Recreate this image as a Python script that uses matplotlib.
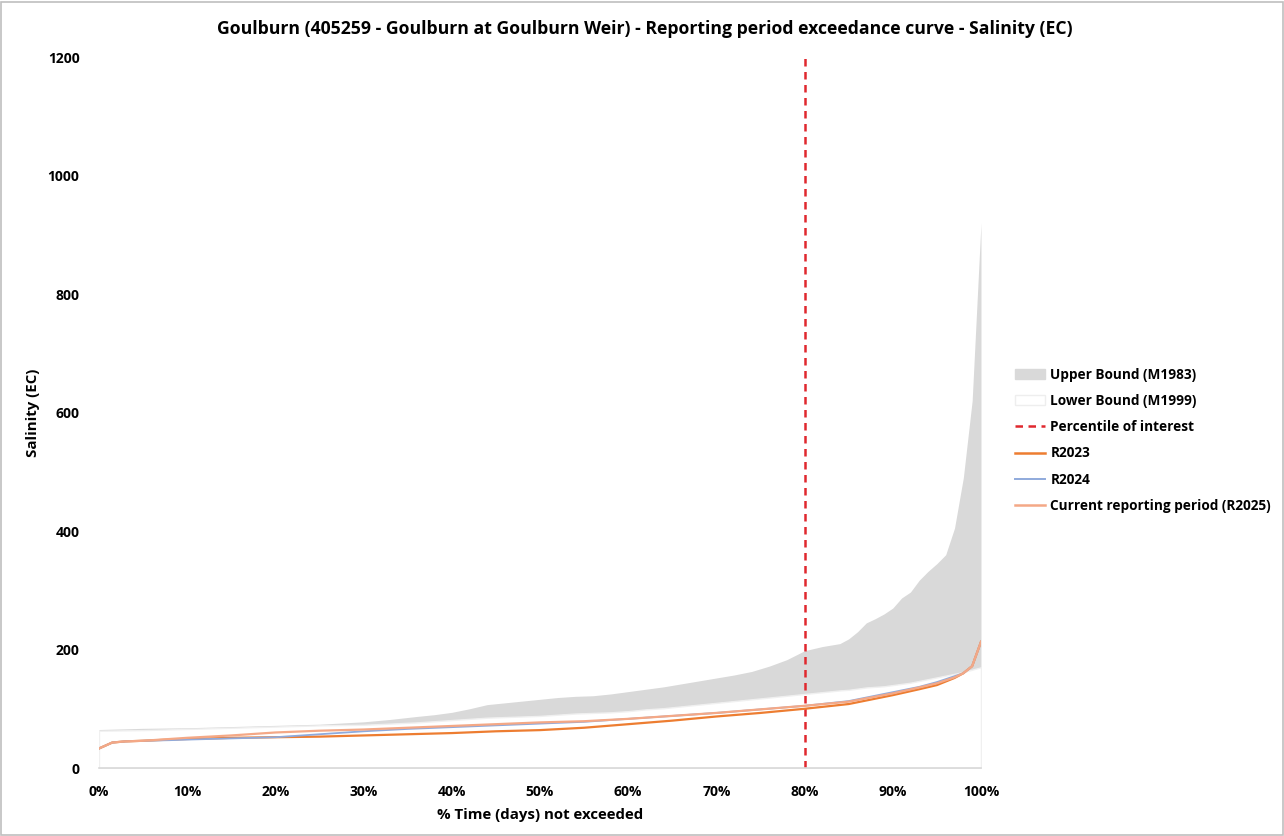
import matplotlib
matplotlib.use("Agg")
import matplotlib.pyplot as plt
from matplotlib.patches import Patch, Rectangle
from matplotlib.lines import Line2D
from matplotlib.ticker import FuncFormatter

plt.rcParams['font.family'] = ['Open Sans', 'DejaVu Sans']
plt.rcParams['font.weight'] = 'bold'

# historical envelope (percent of time not exceeded -> EC)
bounds_pct = [0, 5, 10, 15, 20, 25, 30, 33, 36, 38, 40, 42, 44, 46, 48, 50,
              52, 54, 56, 58, 60, 62, 64, 66, 68, 70, 72, 74, 76, 78, 80,
              82, 84, 85, 86, 87, 88, 89, 90, 91, 92, 93, 94, 95, 96, 97,
              98, 99, 100]
upper_m1983 = [65, 67, 68, 70, 72, 74, 78, 82, 87, 90, 94, 100, 107, 110, 113,
               116, 119, 121, 122, 125, 129, 133, 137, 142, 147, 152, 157,
               163, 172, 183, 198, 205, 210, 218, 230, 245, 252, 260, 270,
               287, 297, 317, 332, 345, 360, 405, 490, 620, 920]
lower_m1999 = [63, 64, 66, 68, 70, 72, 73, 75, 77, 79, 81, 83, 85, 86, 87, 88,
               90, 92, 93, 94, 96, 99, 101, 104, 107, 110, 113, 116, 119, 122,
               125, 128, 131, 132, 134, 136, 137, 138, 140, 142, 144, 147,
               150, 153, 156, 159, 162, 166, 170]

# reporting periods
line_pct = [0, 1.5, 3, 5, 8, 10, 15, 20, 25, 30, 35, 40, 45, 50, 55, 60, 65,
            70, 75, 80, 85, 90, 93, 95, 97, 98, 99, 100]
r2023 = [33, 43, 45, 46, 48, 49, 51, 52, 53, 55, 57, 59, 62, 64, 68, 74, 80,
         87, 93, 100, 108, 123, 133, 140, 152, 160, 172, 213]
r2024 = [33, 43, 45, 46, 47, 48, 50, 52, 57, 62, 66, 69, 72, 75, 78, 83, 88,
         93, 99, 105, 113, 128, 137, 145, 155, 160, 172, 213]
r2025 = [33, 43, 45, 46, 49, 51, 55, 60, 63, 65, 68, 71, 74, 77, 79, 83, 88,
         93, 99, 105, 112, 126, 136, 143, 153, 160, 172, 213]

percentile = 80

fig = plt.figure(figsize=(12.84, 8.36), dpi=100)
ax = fig.add_axes([0.0771, 0.0813, 0.6869, 0.8505])

gray = '#d9d9d9'
c23 = '#ed7d31'
c24 = '#8faadc'
c25 = '#f4a886'
cred = '#e0282e'

ax.fill_between(bounds_pct, lower_m1999, upper_m1983, color=gray, lw=0)
ax.fill_between(bounds_pct, 0, lower_m1999, facecolor='white',
                edgecolor='#f0f0f0', lw=1)
ax.plot([percentile, percentile], [0, 1200], color=cred, lw=1.8,
        dashes=(3, 2.2))
ax.plot(line_pct, r2023, color=c23, lw=1.6)
ax.plot(line_pct, r2024, color=c24, lw=1.3)
ax.plot(line_pct, r2025, color=c25, lw=1.6)

ax.set_xlim(0, 100)
ax.set_ylim(0, 1200)
ax.set_xticks(range(0, 101, 10))
ax.xaxis.set_major_formatter(FuncFormatter(lambda v, p: f"{int(v)}%"))
ax.set_yticks(range(0, 1201, 200))
for s in ['top', 'right', 'left']:
    ax.spines[s].set_visible(False)
ax.spines['bottom'].set_color('#d9d9d9')
ax.spines['bottom'].set_linewidth(1.2)
ax.tick_params(axis='both', length=0, labelsize=10, colors='black')
ax.tick_params(axis='x', pad=12)
ax.tick_params(axis='y', pad=14)
for lab in ax.get_xticklabels() + ax.get_yticklabels():
    lab.set_fontweight('bold')
ax.set_xlabel('% Time (days) not exceeded', fontsize=10.8, fontweight='bold',
              labelpad=7)
ax.set_ylabel('Salinity (EC)', fontsize=10.8, fontweight='bold')
ax.yaxis.set_label_coords(-0.067, 0.5)

fig.text(0.502, 0.965,
         'Goulburn (405259 - Goulburn at Goulburn Weir) - Reporting period '
         'exceedance curve - Salinity (EC)',
         ha='center', va='center', fontsize=12.7, fontweight='bold')

handles = [
    Patch(facecolor=gray, edgecolor=gray),
    Patch(facecolor='white', edgecolor='#eeeeee'),
    Line2D([], [], color=cred, lw=1.8, dashes=(3, 2.2)),
    Line2D([], [], color=c23, lw=1.8),
    Line2D([], [], color=c24, lw=1.4),
    Line2D([], [], color=c25, lw=1.8),
]
labels = ['Upper Bound (M1983)', 'Lower Bound (M1999)', 'Percentile of interest',
          'R2023', 'R2024', 'Current reporting period (R2025)']
fig.legend(handles, labels, loc='upper left', bbox_to_anchor=(0.781, 0.575),
           frameon=False, handlelength=2.2, handletextpad=0.4,
           labelspacing=0.9, prop={'weight': 'bold', 'size': 9.8})

fig.add_artist(Rectangle((0.001, 0.001), 0.998, 0.997, transform=fig.transFigure,
                         fill=False, edgecolor='#bfbfbf', lw=1.2))

fig.savefig('out.png', dpi=100)
